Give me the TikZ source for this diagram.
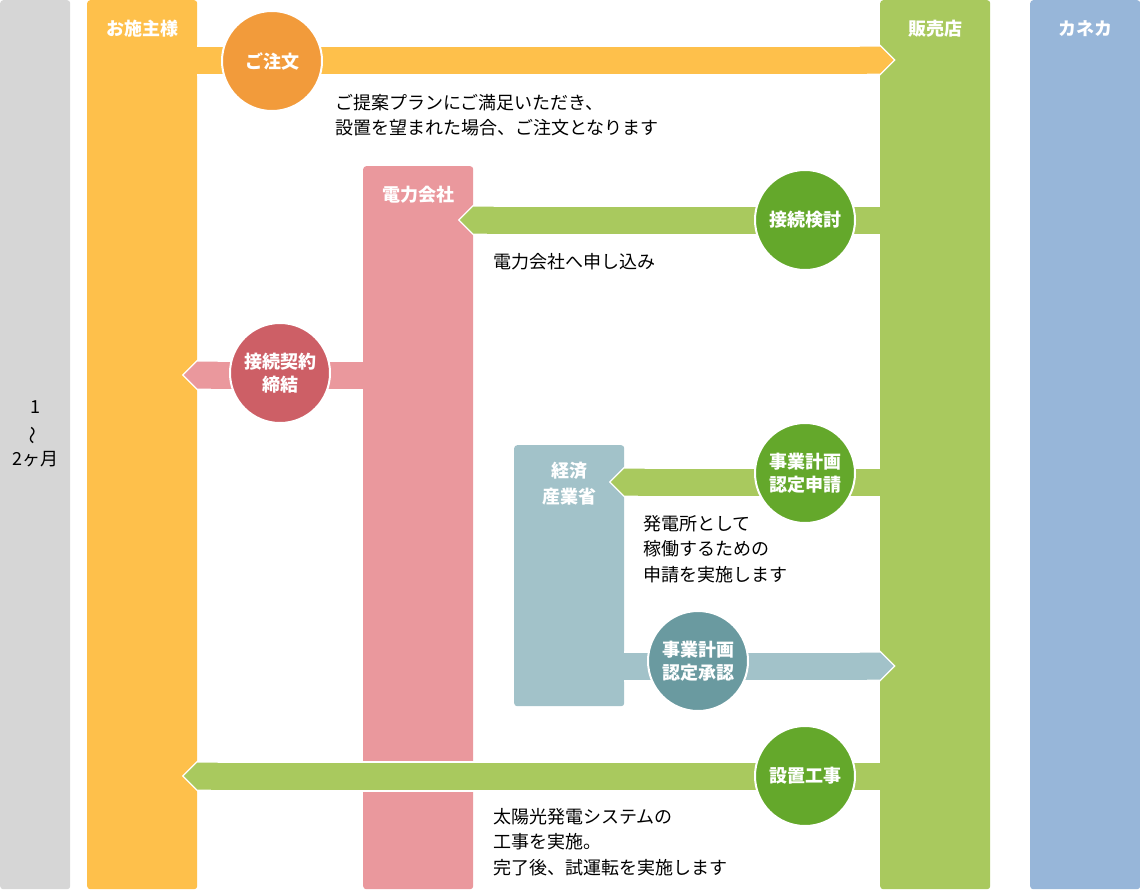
\documentclass[tikz,border=0pt]{standalone}
\usepackage{fontspec}
\setmainfont{Noto Sans CJK JP}
\usetikzlibrary{positioning,arrows.meta}
\definecolor{PeriodGray}{RGB}{214,214,214}
\definecolor{OwnerYellow}{RGB}{254,192,75}
\definecolor{DealerGreen}{RGB}{169,201,94}
\definecolor{KanekaBlue}{RGB}{151,182,217}
\definecolor{PowerPink}{RGB}{234,152,157}
\definecolor{MetiBlue}{RGB}{162,194,201}
\definecolor{OrderOrange}{RGB}{242,155,59}
\definecolor{StepGreen}{RGB}{100,168,43}
\definecolor{StepRed}{RGB}{205,95,102}
\definecolor{StepTeal}{RGB}{106,154,160}
\pgfdeclarelayer{lanes}
\pgfdeclarelayer{bands}
\pgfsetlayers{lanes,bands,main}

\begin{document}
\begin{tikzpicture}[x=1pt,y=-1pt,
  lane/.style={fill=#1, rounded corners=3pt, anchor=north west, minimum width=110pt, inner sep=0pt},
  title/.style={text=white, inner sep=0pt, align=center, font=\fontsize{18}{26}\selectfont\bfseries},
  band/.style={draw=#1, line width=27pt, -{Triangle Cap[]}, shorten >=-13.5pt,
    preaction={draw=white, line width=31pt, -{Triangle Cap[]}, shorten >=-15.5pt}},
  stepc/.style={circle, fill=#1, draw=white, line width=2pt, minimum size=100pt, inner sep=0pt,
    text=white, align=center, font=\fontsize{18}{23}\selectfont\bfseries},
  note/.style={inner sep=0pt, anchor=north west, align=left, font=\fontsize{18}{25.5}\selectfont}]
  \useasboundingbox (0,0) rectangle (1140,889);

  % lanes
  \begin{pgfonlayer}{lanes}
    \node[lane=PeriodGray, minimum width=70pt, minimum height=889pt] (period) at (0,0) {};
    \node[lane=OwnerYellow, minimum height=889pt] (owner) at (87,0) {};
    \node[lane=DealerGreen, minimum height=889pt] (dealer) at (880,0) {};
    \node[lane=KanekaBlue, minimum height=889pt] (kaneka) at (1030,0) {};
    \node[lane=PowerPink, minimum height=723pt] (power) at (363,166) {};
    \node[lane=MetiBlue, minimum height=261pt] (meti) at (514,445) {};
  \end{pgfonlayer}
  \node[title, below=20pt of owner.north] (ownert) {お施主様};
  \node[title, below=20pt of dealer.north] (dealert) {販売店};
  \node[title, below=20pt of kaneka.north] (kanekat) {カネカ};
  \node[title, below=20pt of power.north] (powert) {電力会社};
  \node[title, below=17pt of meti.north] (metit) {経済\\産業省};
  \node[inner sep=0pt, align=center, font=\fontsize{18}{26}\selectfont] (periodt) at (period.center |- 0,434)
    {1\\\rotatebox[origin=c]{90}{～}\\2ヶ月};

  % bands
  \begin{pgfonlayer}{bands}
    \draw[band=OwnerYellow] (owner.east |- 0,60) -- (dealer.west |- 0,60);
    \draw[band=DealerGreen] (dealer.west |- 0,220) -- (power.east |- 0,220);
    \draw[band=PowerPink] (power.west |- 0,375) -- (owner.east |- 0,375);
    \draw[band=DealerGreen] (dealer.west |- 0,482) -- (meti.east |- 0,482);
    \draw[band=MetiBlue] (meti.east |- 0,666) -- (dealer.west |- 0,666);
    \draw[band=DealerGreen] (dealer.west |- 0,776) -- (owner.east |- 0,776);
  \end{pgfonlayer}

  % steps
  \node[stepc=OrderOrange] (order) at (272,61) {ご注文};
  \node[stepc=StepGreen] (check) at (805,220) {接続検討};
  \node[stepc=StepRed] (contract) at (280,373) {接続契約\\締結};
  \node[stepc=StepGreen] (apply) at (805,473) {事業計画\\認定申請};
  \node[stepc=StepTeal] (approve) at (698,661) {事業計画\\認定承認};
  \node[stepc=StepGreen] (build) at (805,776) {設置工事};

  % notes
  \node[note] (ordern) at (335,94) {ご提案プランにご満足いただき、\\設置を望まれた場合、ご注文となります};
  \node[note] (checkn) at (493,253) {電力会社へ申し込み};
  \node[note] (applyn) at (643,515) {発電所として\\稼働するための\\申請を実施します};
  \node[note] (buildn) at (493,808) {太陽光発電システムの\\工事を実施。\\完了後、試運転を実施します};
\end{tikzpicture}
\end{document}
